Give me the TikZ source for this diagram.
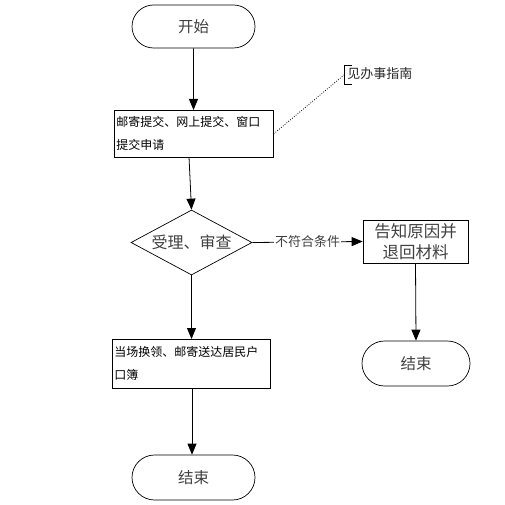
\documentclass[tikz,border=0pt]{standalone}
\usepackage{fontspec}
\setmainfont{Noto Sans CJK SC}
\usetikzlibrary{arrows.meta,shapes.geometric,shapes.misc}
\begin{document}
\begin{tikzpicture}[x=1pt,y=-1pt,
  term/.style={draw,rounded rectangle,minimum width=123pt,minimum height=43pt,inner sep=0pt,font=\fontsize{15.5}{17}\selectfont,text=black!75},
  procbox/.style={draw,rectangle,inner sep=2pt,align=left,font=\fontsize{12}{23}\selectfont},
  decision/.style={draw,diamond,aspect=1.86,minimum width=121pt,minimum height=65pt,inner sep=0pt,font=\fontsize{16}{18}\selectfont,text=black!75},
  arr/.style={-{Triangle[length=11pt,width=9pt]},line width=0.8pt},
  line width=0.7pt]
\useasboundingbox (0,0) rectangle (504,505);
\node[term] (start) at (193.5,26.5) {开始};
\node[procbox,minimum width=159pt,minimum height=47pt,text width=155pt,anchor=north west] (submit) at (114,110) {邮寄提交、网上提交、窗口\\提交申请};
\node[decision] (check) at (191.5,242.5) {受理、审查};
\node[draw,rectangle,minimum width=105pt,minimum height=43pt,align=center,font=\fontsize{16.5}{21}\selectfont,text=black!75,inner sep=1pt] (notify) at (415.5,241.5) {告知原因并\\退回材料};
\node[term,minimum width=108pt,minimum height=45pt] (endr) at (416,363.5) {结束};
\node[procbox,minimum width=158pt,minimum height=49pt,text width=154pt,anchor=north west] (issue) at (112,339) {当场换领、邮寄送达居民户\\口簿};
\node[term,minimum height=45pt] (endl) at (193.5,477.5) {结束};
\coordinate (noteAnchor) at (344,75);
\node[anchor=west,inner sep=0pt,font=\fontsize{13}{15}\selectfont,text=black!85] (note) at (347,74) {见办事指南};
\draw (352,65) -- (344,65) -- (344,84) -- (352,84);
\draw[dash pattern=on 0.8pt off 1.6pt,line width=0.8pt] (submit.east) -- (noteAnchor);
\draw[arr] (start) -- (submit.north -| start);
\draw[arr] (189,157) -- (check.north);
\draw[arr] (check.east) -- node[fill=white,inner sep=1pt,font=\fontsize{13}{15}\selectfont,text=black!75]{不符合条件} (notify.west);
\draw[arr] (notify.south) -- (endr.north);
\draw[arr] (check.south) -- (issue.north -| check.south);
\draw[arr] (192,388) -- (endl.north -| 192,0);
\end{tikzpicture}
\end{document}
